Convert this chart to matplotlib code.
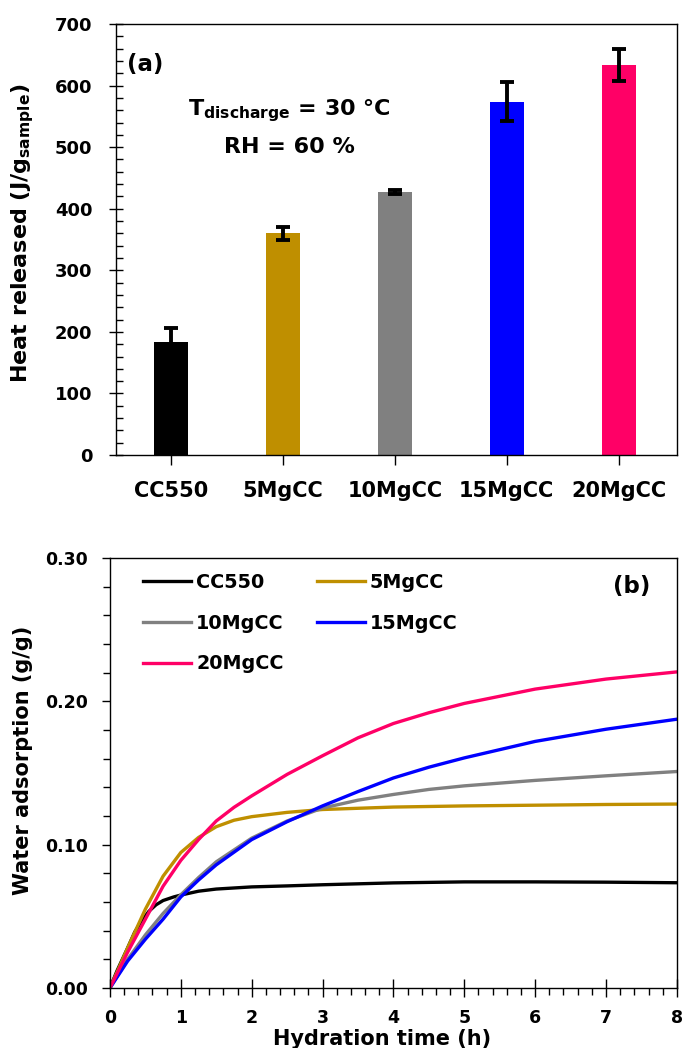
import matplotlib
matplotlib.use("Agg")
import matplotlib.pyplot as plt
from matplotlib.ticker import MultipleLocator
import numpy as np

plt.rcParams['font.family'] = ['DejaVu Sans']
plt.rcParams['font.weight'] = 'bold'
plt.rcParams['mathtext.fontset'] = 'custom'
plt.rcParams['mathtext.rm'] = 'DejaVu Sans:bold'
plt.rcParams['mathtext.bf'] = 'DejaVu Sans:bold'
plt.rcParams['mathtext.it'] = 'DejaVu Sans:bold'
plt.rcParams['mathtext.default'] = 'bf'

# ---- panel (a) data ----
samples = ['CC550', '5MgCC', '10MgCC', '15MgCC', '20MgCC']
heat = [183, 360, 427, 574, 634]
heat_err = [24, 10, 3, 32, 26]
bar_colors = ['#000000', '#BF8F00', '#808080', '#0000FF', '#FF0066']

# ---- panel (b) data ----
t_cc550 = [0, 0.1, 0.25, 0.35, 0.45, 0.55, 0.65, 0.75, 0.9, 1, 1.25, 1.5, 2, 2.5, 3, 4, 5, 6, 7, 8]
w_cc550 = [0, 0.012, 0.028, 0.039, 0.047, 0.0535, 0.058, 0.061, 0.0635, 0.0648, 0.0675, 0.069,
           0.0705, 0.0712, 0.072, 0.0733, 0.074, 0.074, 0.0738, 0.0734]

t_5mg = [0, 0.1, 0.25, 0.5, 0.75, 1, 1.25, 1.5, 1.75, 2, 2.5, 3, 4, 5, 6, 7, 8]
w_5mg = [0, 0.011, 0.028, 0.055, 0.078, 0.0945, 0.105, 0.1125, 0.117, 0.1195,
         0.1225, 0.1245, 0.1262, 0.127, 0.1275, 0.128, 0.1283]

t_10mg = [0, 0.1, 0.25, 0.5, 0.75, 1, 1.25, 1.5, 2, 2.5, 3, 3.5, 4, 4.5, 5, 6, 7, 8]
w_10mg = [0, 0.008, 0.020, 0.037, 0.052, 0.065, 0.077, 0.088, 0.1045, 0.1165,
          0.1255, 0.131, 0.135, 0.1385, 0.141, 0.1448, 0.148, 0.151]

t_15mg = [0, 0.1, 0.25, 0.5, 0.75, 1, 1.25, 1.5, 2, 2.5, 3, 3.5, 4, 4.5, 5, 6, 7, 8]
w_15mg = [0, 0.0075, 0.0188, 0.034, 0.048, 0.0635, 0.0753, 0.0859, 0.1035, 0.116,
          0.127, 0.137, 0.1465, 0.154, 0.1605, 0.172, 0.1805, 0.1875]

t_20mg = [0, 0.1, 0.25, 0.5, 0.75, 1, 1.25, 1.5, 1.75, 2, 2.5, 3, 3.5, 4, 4.5, 5, 6, 7, 8]
w_20mg = [0, 0.010, 0.025, 0.048, 0.071, 0.089, 0.1035, 0.1165, 0.126, 0.134, 0.149,
          0.162, 0.1745, 0.1845, 0.192, 0.1985, 0.2085, 0.2155, 0.2205]

fig = plt.figure(figsize=(6.83, 10.48), dpi=100)

# ================= panel (a) =================
ax1 = fig.add_axes([0.1698, 0.5658, 0.8214, 0.4113])
x = np.arange(len(samples))
ax1.bar(x, heat, width=0.30, color=bar_colors, zorder=2)
ax1.errorbar(x, heat, yerr=heat_err, fmt='none', ecolor='black',
             elinewidth=2.8, capsize=5, capthick=2.8, zorder=3)
ax1.set_xlim(-0.49, 4.52)
ax1.set_ylim(0, 700)
ax1.set_xticks(x)
ax1.set_xticklabels(samples, fontsize=15, fontweight='bold')
ax1.yaxis.set_major_locator(MultipleLocator(100))
ax1.yaxis.set_minor_locator(MultipleLocator(20))
ax1.tick_params(axis='y', which='major', direction='inout', length=10, width=1,
                labelsize=13, pad=12)
ax1.tick_params(axis='y', which='minor', direction='in', length=5, width=1)
ax1.tick_params(axis='x', which='major', direction='out', length=7, width=1, pad=12)
for lab in ax1.get_yticklabels():
    lab.set_fontweight('bold')
ax1.set_ylabel(r'Heat released (J/g$_{\mathbf{sample}}$)', fontsize=16,
               fontweight='bold')
ax1.yaxis.set_label_coords(-0.142, 0.515)
for s in ax1.spines.values():
    s.set_linewidth(1.0)
ax1.text(0.052, 0.905, '(a)', transform=ax1.transAxes, fontsize=16.5,
         fontweight='bold', ha='center', va='center')
ax1.text(0.31, 0.800, r'T$_{\mathbf{discharge}}$ = 30 °C', transform=ax1.transAxes,
         fontsize=16, fontweight='bold', ha='center', va='center')
ax1.text(0.31, 0.715, 'RH = 60 %', transform=ax1.transAxes,
         fontsize=16, fontweight='bold', ha='center', va='center')

# ================= panel (b) =================
ax2 = fig.add_axes([0.161, 0.0573, 0.830, 0.4103])
lw = 2.4
l1, = ax2.plot(t_cc550, w_cc550, color='#000000', lw=lw, label='CC550')
l2, = ax2.plot(t_5mg, w_5mg, color='#BF8F00', lw=lw, label='5MgCC')
l3, = ax2.plot(t_10mg, w_10mg, color='#808080', lw=lw, label='10MgCC')
l4, = ax2.plot(t_15mg, w_15mg, color='#0000FF', lw=lw, label='15MgCC')
l5, = ax2.plot(t_20mg, w_20mg, color='#FF0066', lw=lw, label='20MgCC')
ax2.set_xlim(0, 8)
ax2.set_ylim(0, 0.30)
ax2.xaxis.set_major_locator(MultipleLocator(1))
ax2.xaxis.set_minor_locator(MultipleLocator(0.2))
ax2.yaxis.set_minor_locator(MultipleLocator(0.02))
ax2.set_yticks([0, 0.1, 0.2, 0.3])
ax2.set_yticklabels(['0.00', '0.10', '0.20', '0.30'])
ax2.tick_params(axis='x', which='major', direction='inout', length=13, width=1,
                labelsize=12.5, pad=9)
ax2.tick_params(axis='x', which='minor', direction='out', length=5, width=1)
ax2.tick_params(axis='y', which='major', direction='out', length=6, width=1,
                labelsize=12.5, pad=10)
ax2.tick_params(axis='y', which='minor', direction='out', length=5, width=1)
for lab in ax2.get_xticklabels() + ax2.get_yticklabels():
    lab.set_fontweight('bold')
ax2.set_xlabel('Hydration time (h)', fontsize=15, fontweight='bold', labelpad=0)
ax2.xaxis.set_label_coords(0.48, -0.096)
ax2.set_ylabel('Water adsorption (g/g)', fontsize=15, fontweight='bold')
ax2.yaxis.set_label_coords(-0.136, 0.53)
for s in ax2.spines.values():
    s.set_linewidth(1.0)
ax2.text(0.92, 0.933, '(b)', transform=ax2.transAxes, fontsize=16.5,
         fontweight='bold', ha='center', va='center')
# legend filled row-wise: reorder for column-first filling
handles = [l1, l3, l5, l2, l4]
leg = ax2.legend(handles, [h.get_label() for h in handles],
                 loc='upper left', bbox_to_anchor=(0.045, 0.983), ncol=2,
                 frameon=False, fontsize=13.8, handlelength=2.5, handletextpad=0.26,
                 columnspacing=1.72, labelspacing=1.13, borderaxespad=0)
for t in leg.get_texts():
    t.set_fontweight('bold')

fig.savefig('out.png', dpi=100)
